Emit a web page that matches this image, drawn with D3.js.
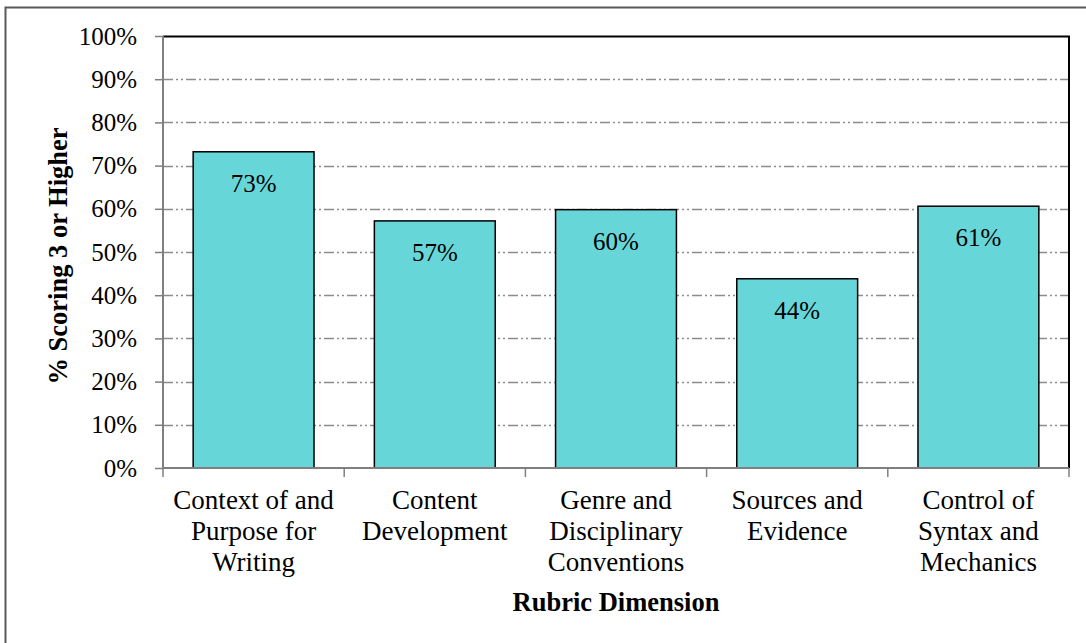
<!DOCTYPE html>
<html>
<head>
<meta charset="utf-8">
<script src="https://cdn.jsdelivr.net/npm/d3@7"></script>
<style>
  body { margin: 0; background: #fff; }
  svg text { font-family: "Liberation Serif", "DejaVu Serif", serif; fill: #000; }
</style>
</head>
<body>
<script>
// Data
const categories = [
    ['Context of and', 'Purpose for', 'Writing'],
    ['Content', 'Development'],
    ['Genre and', 'Disciplinary', 'Conventions'],
    ['Sources and', 'Evidence'],
    ['Control of', 'Syntax and', 'Mechanics']
];
const values = [0.732, 0.572, 0.598, 0.438, 0.606];
const labels = ['73%', '57%', '60%', '44%', '61%'];
const yTicks = [0, 0.1, 0.2, 0.3, 0.4, 0.5, 0.6, 0.7, 0.8, 0.9, 1.0];

const width = 1086;
const height = 643;
const margin = { top: 36, right: 17, bottom: 175, left: 163 };
const innerW = width - margin.left - margin.right;
const innerH = height - margin.top - margin.bottom;
const serif = '"Liberation Serif", "DejaVu Serif", serif';

const svg = d3.select('body').append('svg')
    .attr('width', width)
    .attr('height', height)
    .attr('font-family', serif);

// outer chart frame (only top and left edges show)
svg.append('path')
    .attr('d', `M5.5,${height + 5} V7.5 H${width + 5}`)
    .attr('fill', 'none')
    .attr('stroke', '#595959')
    .attr('stroke-width', 2);

const g = svg.append('g')
    .attr('transform', 'translate(' + margin.left + ',' + margin.top + ')');

const x = d3.scaleBand()
    .domain(d3.range(categories.length))
    .range([0, innerW])
    .paddingInner(0.333)
    .paddingOuter(0.1665);

const y = d3.scaleLinear()
    .domain([0, 1])
    .range([innerH, 0]);

// gridlines
g.append('g')
    .attr('class', 'grid')
    .selectAll('line')
    .data(yTicks.filter(d => d > 0 && d < 1))
    .enter().append('line')
    .attr('x1', 0)
    .attr('x2', innerW)
    .attr('y1', d => Math.round(y(d)) + 0.5)
    .attr('y2', d => Math.round(y(d)) + 0.5)
    .attr('stroke', '#8c8c8c')
    .attr('stroke-width', 1.5)
    .attr('stroke-dasharray', '10,3,2,3,2,3');

// plot area border: top and right in black
g.append('path')
    .attr('d', `M0,0.5 H${innerW} V${innerH}`)
    .attr('fill', 'none')
    .attr('stroke', '#000')
    .attr('stroke-width', 2);

// bars
g.append('g')
    .selectAll('rect')
    .data(values)
    .enter().append('rect')
    .attr('x', (d, i) => x(i))
    .attr('y', d => y(d))
    .attr('width', x.bandwidth())
    .attr('height', d => innerH - y(d))
    .attr('fill', '#67d6d9')
    .attr('stroke', '#000')
    .attr('stroke-width', 1.5);

// value labels
g.append('g')
    .selectAll('text')
    .data(values)
    .enter().append('text')
    .attr('x', (d, i) => x(i) + x.bandwidth() / 2)
    .attr('y', d => y(d) + 40)
    .attr('text-anchor', 'middle')
    .attr('font-size', 25)
    .text((d, i) => labels[i]);

// y axis
const yAxis = g.append('g')
    .call(d3.axisLeft(y).tickValues(yTicks).tickFormat(d3.format('.0%')).tickSize(8).tickPadding(18));
yAxis.attr('font-family', serif);
yAxis.select('.domain').attr('stroke', '#7f7f7f').attr('stroke-width', 2)
    .attr('d', `M0,0 V${innerH}`);
yAxis.selectAll('.tick line').attr('stroke', '#7f7f7f').attr('stroke-width', 1.5);
yAxis.selectAll('.tick text')
    .attr('font-size', 25)
    .attr('fill', '#000');

// x axis line and category boundary ticks
g.append('line')
    .attr('x1', 0).attr('x2', innerW)
    .attr('y1', innerH).attr('y2', innerH)
    .attr('stroke', '#7f7f7f')
    .attr('stroke-width', 2);
const step = innerW / categories.length;
g.append('g')
    .selectAll('line')
    .data(d3.range(categories.length + 1))
    .enter().append('line')
    .attr('x1', i => i * step).attr('x2', i => i * step)
    .attr('y1', innerH).attr('y2', innerH + 9)
    .attr('stroke', '#7f7f7f')
    .attr('stroke-width', 1.5);

// category labels
const catText = g.append('g')
    .selectAll('text')
    .data(categories)
    .enter().append('text')
    .attr('text-anchor', 'middle')
    .attr('font-size', 27)
    .attr('transform', (d, i) => 'translate(' + (x(i) + x.bandwidth() / 2) + ',' + (innerH + 41) + ')');
catText.selectAll('tspan')
    .data(d => d)
    .enter().append('tspan')
    .attr('x', 0)
    .attr('dy', (d, i) => i === 0 ? 0 : 31)
    .text(d => d);

// axis titles
g.append('text')
    .attr('x', innerW / 2)
    .attr('y', innerH + 143)
    .attr('text-anchor', 'middle')
    .attr('font-size', 26.5)
    .attr('font-weight', 'bold')
    .text('Rubric Dimension');

g.append('text')
    .attr('transform', 'translate(' + (-96) + ',' + (innerH / 2 + 4) + ') rotate(-90)')
    .attr('text-anchor', 'middle')
    .attr('font-size', 26.5)
    .attr('font-weight', 'bold')
    .text('% Scoring 3 or Higher');
</script>
</body>
</html>
